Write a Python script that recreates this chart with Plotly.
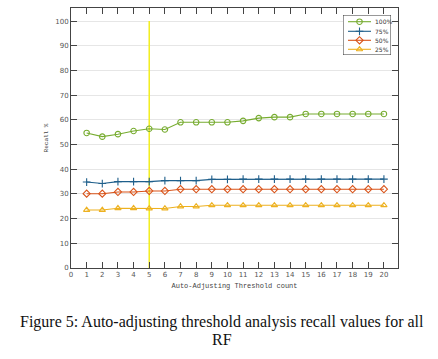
import plotly.graph_objects as go

counts = list(range(1, 21))
recall_100 = [54.7, 53.2, 54.2, 55.5, 56.4, 56.1, 59.0, 59.0, 59.0, 59.0,
              59.6, 60.7, 61.1, 61.1, 62.4, 62.4, 62.4, 62.4, 62.4, 62.4]
recall_75 = [34.8, 34.2, 35.0, 35.0, 35.0, 35.4, 35.4, 35.4, 35.9, 35.9,
             36.0, 36.0, 36.0, 36.0, 36.0, 36.0, 36.0, 36.0, 36.0, 36.0]
recall_50 = [30.1, 30.1, 30.8, 30.8, 31.2, 31.2, 31.9, 31.9, 31.9, 31.9,
             31.9, 31.9, 31.9, 31.9, 31.9, 31.9, 31.9, 31.9, 31.9, 31.9]
recall_25 = [23.5, 23.5, 24.2, 24.2, 24.1, 24.1, 24.9, 24.9, 25.4, 25.4,
             25.4, 25.4, 25.4, 25.4, 25.4, 25.4, 25.4, 25.4, 25.4, 25.4]
series_names = ["100%", "75%", "50%", "25%"]
chosen_count = 5
x_ticks = list(range(0, 21))
y_ticks = list(range(0, 101, 10))

W, H = 438, 359
L, R, T, B = 71, 40, 8, 91
PW, PH = W - L - R, H - T - B


def px_x(p):
    return (p - L) / PW


def px_y(p):
    return (H - B - p) / PH


fig = go.Figure()

fig.add_trace(go.Scatter(x=[chosen_count, chosen_count], y=[0, 100], mode="lines",
                         line=dict(color="#F2EE1E", width=1.5), showlegend=False,
                         hoverinfo="skip"))

styles = [
    (recall_100, "#77AC30", "circle-open"),
    (recall_75, "#1F5F8B", "cross-thin-open"),
    (recall_50, "#D95319", "diamond-open"),
    (recall_25, "#EDB120", "triangle-up-open"),
]
for name, (vals, col, sym) in zip(series_names, styles):
    fig.add_trace(go.Scatter(
        x=counts, y=vals, mode="lines+markers", name=name, showlegend=False,
        line=dict(color=col, width=1.1),
        marker=dict(symbol=sym, size=5.5, color=col, line=dict(color=col, width=1.1)),
    ))

# compact legend drawn in a small overlay axis (box 48x40 px)
box_x0, box_x1, box_y0, box_y1 = 343, 391, 15, 55
row_pos = [6.7, 16.3, 25.3, 34.3]
for i, (name, (vals, col, sym)) in enumerate(zip(series_names, styles)):
    fig.add_trace(go.Scatter(x=[5, 28], y=[row_pos[i]] * 2, mode="lines", xaxis="x2", yaxis="y2",
                             line=dict(color=col, width=1.1), showlegend=False, hoverinfo="skip"))
    fig.add_trace(go.Scatter(x=[16.5], y=[row_pos[i]], mode="markers", xaxis="x2", yaxis="y2",
                             marker=dict(symbol=sym, size=5.5, color=col, line=dict(color=col, width=1.1)),
                             showlegend=False, hoverinfo="skip"))
    fig.add_annotation(text=name, x=30, y=row_pos[i], xref="x2", yref="y2", xanchor="left",
                       yanchor="middle", showarrow=False,
                       font=dict(family="DejaVu Sans", size=6, color="#333"))

axis_common = dict(showline=True, linecolor="#444", linewidth=1, mirror="ticks",
                   ticks="inside", ticklen=6, tickcolor="#444", zeroline=False,
                   tickfont=dict(family="DejaVu Sans", size=7, color="#555"))

fig.update_xaxes(range=[0, 20.9], tickvals=x_ticks, showgrid=False,
                 title=dict(text="Auto-Adjusting Threshold count", standoff=4,
                            font=dict(family="Liberation Mono", size=7, color="#444")),
                 **axis_common)
fig.update_yaxes(range=[0, 105.3], tickvals=y_ticks, showgrid=True, gridcolor="#E6E6E6",
                 title=dict(text="Recall %", standoff=6,
                            font=dict(family="Liberation Mono", size=6, color="#444")),
                 **axis_common)

fig.update_layout(
    xaxis2=dict(domain=[px_x(box_x0), px_x(box_x1)], range=[0, box_x1 - box_x0], anchor="y2",
                visible=False, fixedrange=True, showgrid=False, zeroline=False),
    yaxis2=dict(domain=[px_y(box_y1), px_y(box_y0)], range=[box_y1 - box_y0, 0], anchor="x2",
                visible=False, fixedrange=True, showgrid=False, zeroline=False),
)
fig.add_shape(type="rect", xref="x2", yref="y2",
              x0=0, x1=box_x1 - box_x0, y0=0, y1=box_y1 - box_y0,
              line=dict(color="#333", width=1), fillcolor="white", layer="below")

cap_font = dict(family="Liberation Serif", size=16, color="#111")
fig.add_annotation(text="Figure 5: Auto-adjusting threshold analysis recall values for all",
                   xref="paper", yref="paper", x=px_x(222), y=px_y(322), xanchor="center",
                   yanchor="middle", showarrow=False, font=cap_font)
fig.add_annotation(text="RF",
                   xref="paper", yref="paper", x=px_x(222), y=px_y(339), xanchor="center",
                   yanchor="middle", showarrow=False, font=cap_font)

fig.update_layout(
    width=W, height=H,
    margin=dict(l=L, r=R, t=T, b=B),
    paper_bgcolor="white", plot_bgcolor="white",
    showlegend=False,
)

fig.write_html("out.html", config={"displayModeBar": False},
               post_script="document.body.style.margin='0';")
